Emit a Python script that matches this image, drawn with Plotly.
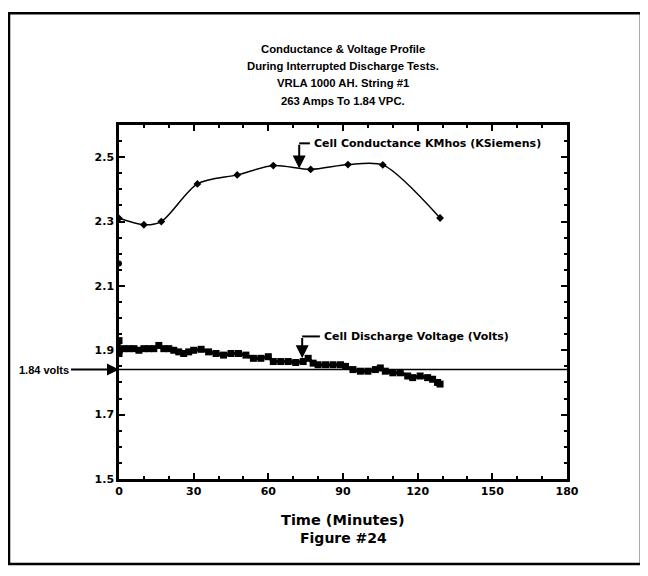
import plotly.graph_objects as go

# conductance (KMhos) vs time (minutes)
cond_t = [0, 10, 17, 31.5, 47.5, 62, 77, 92, 106, 129]
cond_v = [2.31, 2.29, 2.30, 2.417, 2.445, 2.474, 2.462, 2.477, 2.476, 2.311]
cond_extra_t = [0]
cond_extra_v = [2.17]

# cell discharge voltage vs time (minutes)
volt_t = [0, 0, 0, 2, 4, 6, 8, 10, 12, 14, 16, 18, 20, 22, 24, 26, 28, 30, 33, 36,
          39, 42, 45, 48, 51, 54, 57, 60, 62, 65, 68, 71, 74, 76, 78, 80, 83, 86, 89,
          91, 94, 97, 100, 103, 105, 107, 110, 113, 116, 118, 121, 124, 126, 128, 129]
volt_v = [1.93, 1.90, 1.89, 1.905, 1.905, 1.905, 1.90, 1.905, 1.905, 1.905, 1.915,
          1.905, 1.905, 1.90, 1.895, 1.89, 1.895, 1.90, 1.903, 1.895, 1.89, 1.885,
          1.89, 1.89, 1.885, 1.875, 1.875, 1.88, 1.865, 1.865, 1.865, 1.862, 1.865,
          1.875, 1.86, 1.855, 1.855, 1.855, 1.855, 1.85, 1.84, 1.835, 1.835, 1.84,
          1.845, 1.835, 1.83, 1.83, 1.82, 1.815, 1.82, 1.815, 1.81, 1.80, 1.795]

cutoff = 1.84

title_lines = ["Conductance & Voltage Profile",
               "During Interrupted Discharge Tests.",
               "VRLA 1000 AH. String #1",
               "263 Amps To 1.84 VPC."]

font = "Liberation Sans"
wide = "DejaVu Sans"
black = "#000000"

fig = go.Figure()

fig.add_trace(go.Scatter(x=cond_t, y=cond_v, mode="lines+markers",
                         line=dict(color=black, width=1.5, shape="spline", smoothing=0.8),
                         marker=dict(symbol="diamond", size=6, color=black)))
fig.add_trace(go.Scatter(x=cond_extra_t, y=cond_extra_v, mode="markers",
                         marker=dict(symbol="circle", size=6, color=black)))
fig.add_trace(go.Scatter(x=volt_t, y=volt_v, mode="lines+markers",
                         line=dict(color=black, width=3.5),
                         marker=dict(symbol="square", size=7, color=black)))

# 1.84 volts cut-off line
fig.add_shape(type="line", xref="paper", x0=0, x1=1, yref="y", y0=cutoff, y1=cutoff,
              line=dict(color=black, width=1.5))

# outer frame
fig.add_shape(type="rect", xref="paper", yref="paper", x0=-0.2455, x1=1.165,
              y0=-0.240, y1=1.316, line=dict(color=black, width=2.5))

# title
for i, s in enumerate(title_lines):
    fig.add_annotation(text="<b>" + s + "</b>", xref="paper", yref="paper", x=0.5,
                       y=1.216 - i * 0.049, yanchor="middle", showarrow=False,
                       font=dict(family=font, size=11.3, color=black))

# series labels with arrows
lab_font = dict(family=wide, size=11, color=black)
for (xa, ytop, ytip, xt, text) in [(72.4, 2.543, 2.465, 77.5, "Cell Conductance KMhos (KSiemens)"),
                                   (73.6, 1.943, 1.875, 81.5, "Cell Discharge Voltage (Volts)")]:
    fig.add_annotation(x=xa, y=ytip, ax=xa, ay=ytop, axref="x", ayref="y", text="",
                       showarrow=True, arrowhead=2, arrowsize=1.3, arrowwidth=2,
                       arrowcolor=black)
    fig.add_shape(type="line", x0=xa, x1=xt - 0.8, y0=ytop, y1=ytop,
                  line=dict(color=black, width=2))
    fig.add_annotation(x=xt, y=ytop, text="<b>" + text + "</b>", showarrow=False,
                       xanchor="left", yanchor="middle", font=lab_font)

# 1.84 volts label
fig.add_annotation(x=0, y=cutoff, xref="paper", yref="y", text="<b>1.84 volts</b>",
                   showarrow=True, ax=-48, ay=0, axref="pixel", ayref="pixel",
                   arrowhead=2, arrowsize=1.2, arrowwidth=2, arrowcolor=black,
                   xanchor="right", font=dict(family=font, size=11, color=black))

# axis captions
fig.add_annotation(text="<b>Time (Minutes)</b>", xref="paper", yref="paper", x=0.5,
                   y=-0.116, yanchor="middle", showarrow=False,
                   font=dict(family=wide, size=14.5, color=black))
fig.add_annotation(text="<b>Figure #24</b>", xref="paper", yref="paper", x=0.5,
                   y=-0.167, yanchor="middle", showarrow=False,
                   font=dict(family=wide, size=14, color=black))

tickfont = dict(family=wide, size=11, color=black)
fig.update_xaxes(range=[0, 180], tick0=0, dtick=30, ticks="inside", ticklen=6,
                 tickwidth=1.5, tickcolor=black, showline=True, linecolor=black,
                 linewidth=2.5, mirror="ticks", showgrid=False, zeroline=False,
                 tickfont=tickfont, tickprefix="<b>", ticksuffix="</b>",
                 minor=dict(dtick=10, ticks="inside", ticklen=3, tickcolor=black,
                            showgrid=False))
fig.update_yaxes(range=[1.5, 2.6], tick0=1.5, dtick=0.2, tickformat=".1f",
                 ticks="inside", ticklen=6, tickwidth=1.5, tickcolor=black,
                 showline=True, linecolor=black, linewidth=2.5, mirror="ticks",
                 showgrid=False, zeroline=False, tickfont=tickfont,
                 tickprefix="<b>", ticksuffix="</b>",
                 minor=dict(dtick=0.05, ticks="inside", ticklen=3, tickcolor=black,
                            showgrid=False))

# page body adds a small offset, so margins are trimmed to keep the plot in place
fig.update_layout(width=648, height=576, showlegend=False,
                  margin=dict(l=111, r=89, t=117, b=105),
                  plot_bgcolor="white", paper_bgcolor="white",
                  font=dict(family=font, color=black))

fig.write_html("out.html")
